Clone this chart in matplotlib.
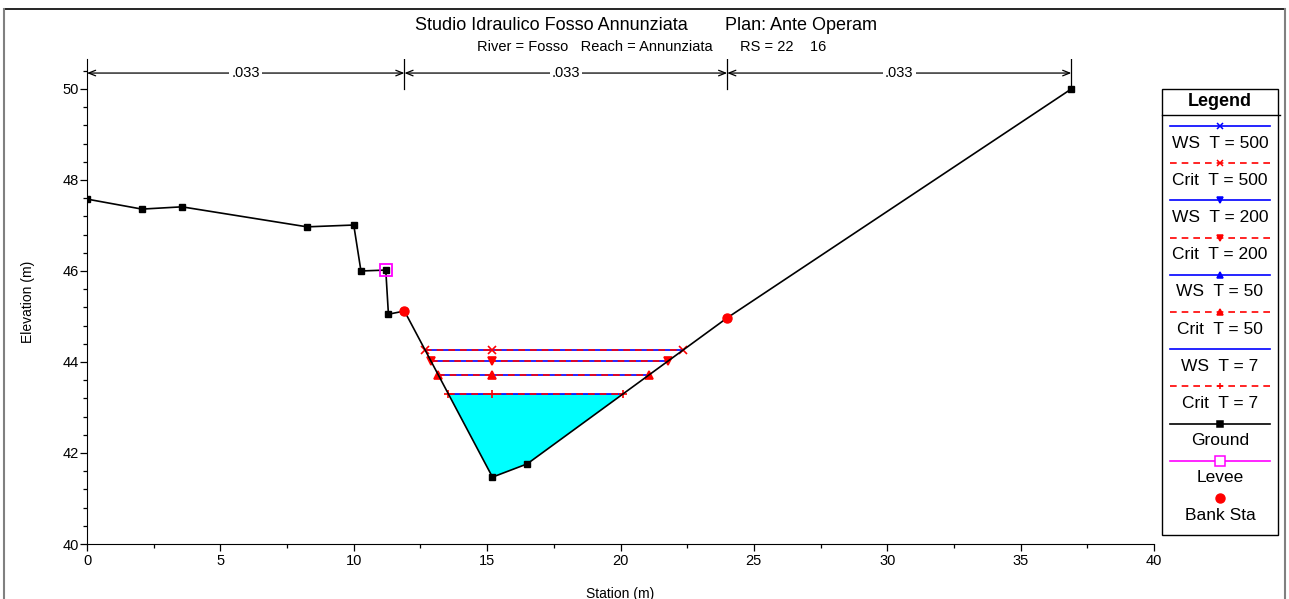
import numpy as np
import matplotlib
matplotlib.use("Agg")
import matplotlib.pyplot as plt
from matplotlib.lines import Line2D
from matplotlib.patches import Rectangle, Polygon

plt.rcParams['font.family'] = ['Liberation Sans', 'DejaVu Sans']

# ground profile (station, elevation)
station = [0.0, 2.06, 3.56, 8.25, 10.0, 10.27, 11.2, 11.3, 11.9, 15.2, 16.5, 24.0, 36.9]
elevation = [47.58, 47.36, 47.41, 46.97, 47.01, 46.0, 46.02, 45.05, 45.12, 41.47, 41.76, 44.97, 50.0]

levee_sta = [11.2]
levee_elev = [46.02]
bank_sta = [11.9, 24.0]
bank_elev = [45.12, 44.97]

# manning n
n_breaks = [0.0, 11.9, 24.0, 36.9]
n_values = [".033", ".033", ".033"]

# water surfaces per return period
profiles = ["500", "200", "50", "7"]
ws_elev = [44.26, 44.02, 43.71, 43.30]
crit_elev = [44.26, 44.02, 43.71, 43.30]
markers = ["x", "v", "^", "+"]
mid_sta = 15.2

st = np.array(station)
el = np.array(elevation)


def wet_limits(z):
    i = int(np.argmin(el))
    left = np.interp(z, el[:i + 1][::-1], st[:i + 1][::-1])
    j = i + int(np.argmax(el[i:] >= z))
    right = np.interp(z, el[i:j + 1], st[i:j + 1])
    return left, right


fig = plt.figure(figsize=(12.89, 5.99), dpi=100)
ax = fig.add_axes([87 / 1289, 55 / 599, 1067 / 1289, 484.6 / 599])

# water fill for lowest profile
zf = ws_elev[-1]
l, r = wet_limits(zf)
inside = (st > l) & (st < r)
poly = [(l, zf)] + list(zip(st[inside], el[inside])) + [(r, zf)]
ax.add_patch(Polygon(poly, closed=True, facecolor="#00ffff", edgecolor="none", zorder=1))

for k, name in enumerate(profiles):
    l, r = wet_limits(ws_elev[k])
    xs = [l, mid_sta, r]
    ax.plot(xs, [ws_elev[k]] * 3, color="#0000ff", lw=1.2, zorder=3)
    l, r = wet_limits(crit_elev[k])
    xs = [l, mid_sta, r]
    ax.plot(xs, [crit_elev[k]] * 3, color="#ff0000", lw=1.2, ls=(0, (4, 3)),
            marker=markers[k], ms=5.5, mew=1.2, zorder=4)

ax.plot(station, elevation, color="black", lw=1.2, marker="s", ms=5, zorder=5)
ax.plot(levee_sta, levee_elev, ls="none", marker="s", ms=8, mfc="none", mec="#ff00ff", mew=1.3, zorder=6)
ax.plot(bank_sta, bank_elev, ls="none", marker="o", ms=6.5, color="#ff0000", zorder=7)

# manning n annotations
ny = 50.35
for a, b, lab in zip(n_breaks[:-1], n_breaks[1:], n_values):
    ax.annotate("", xy=(a, ny), xytext=(b, ny),
                arrowprops=dict(arrowstyle="<->,head_length=0.5,head_width=0.2", color="black", lw=0.9,
                                shrinkA=0, shrinkB=0))
    ax.text((a + b) / 2, ny, lab, ha="center", va="center", fontsize=10.5,
            bbox=dict(facecolor="white", edgecolor="none", pad=1.5), zorder=8)
for b in n_breaks[1:]:
    ax.plot([b, b], [50.0, 50.65], color="black", lw=0.9)

ax.set_xlim(0, 40)
ax.set_ylim(40, 50.65)
ax.set_xticks(np.arange(0, 41, 5))
ax.set_xticks(np.arange(0, 40.1, 2.5), minor=True)
ax.set_yticks(np.arange(40, 51, 2))
ax.set_yticks(np.arange(40, 50.5, 0.4), minor=True)
ax.tick_params(which="both", direction="out", labelsize=10.5, width=0.9)
ax.tick_params(which="major", length=5)
ax.tick_params(which="minor", length=3)
ax.tick_params(axis="x", pad=2)
ax.tick_params(axis="y", pad=1)
for s in ["top", "right"]:
    ax.spines[s].set_visible(False)
ax.set_xlabel("Station (m)", fontsize=10, labelpad=14)
ax.set_ylabel("Elevation (m)", fontsize=10, labelpad=20)

fig.text(688 / 1289, 1 - 25 / 599, "Studio Idraulico Fosso Annunziata",
         ha="right", va="center", fontsize=13)
fig.text(725 / 1289, 1 - 25 / 599, "Plan: Ante Operam",
         ha="left", va="center", fontsize=13)
fig.text(713 / 1289, 1 - 47 / 599, "River = Fosso   Reach = Annunziata",
         ha="right", va="center", fontsize=10.5)
fig.text(740 / 1289, 1 - 47 / 599, "RS = 22    16",
         ha="left", va="center", fontsize=10.5)

# figure frame
fig.add_artist(Line2D([4 / 1289, 1285 / 1289], [1 - 9 / 599, 1 - 9 / 599], color="black", lw=1.2))
fig.add_artist(Line2D([4 / 1289, 4 / 1289], [0, 1 - 9 / 599], color="#808080", lw=1.5))
fig.add_artist(Line2D([1285 / 1289, 1285 / 1289], [0, 1 - 9 / 599], color="#808080", lw=1.5))

# legend box drawn by hand
lg = fig.add_axes([0, 0, 1, 1], facecolor="none")
lg.set_xlim(0, 1289)
lg.set_ylim(599, 0)
lg.axis("off")
lg.add_patch(Rectangle((1162, 89), 116, 446, facecolor="white", edgecolor="black", lw=1.0))
lg.plot([1162, 1280], [115, 115], color="black", lw=1.0)
lg.text(1220, 101, "Legend", ha="center", va="center", fontsize=13, fontweight="bold")

entries = []
for k, name in enumerate(profiles):
    entries.append(("WS  T = " + name, "#0000ff", "-", markers[k] if name != "7" else "", "#0000ff"))
    entries.append(("Crit  T = " + name, "#ff0000", (0, (4, 3)), markers[k], "#ff0000"))
entries.append(("Ground", "black", "-", "s", "black"))
entries.append(("Levee", "#ff00ff", "-", "s", "#ff00ff"))
entries.append(("Bank Sta", "none", "-", "o", "#ff0000"))

for k, (lab, col, ls, mk, mc) in enumerate(entries):
    y0 = 126 + k * 37.2
    lg.plot([1170, 1270], [y0, y0], color=col, ls=ls, lw=1.2)
    if mk:
        if lab == "Levee":
            lg.plot([1220], [y0], marker=mk, ms=7, mfc="white", mec=mc, mew=1.1)
        elif lab == "Bank Sta":
            lg.plot([1220], [y0], marker=mk, ms=6.5, color=mc)
        else:
            lg.plot([1220], [y0], marker=mk, ms=5, color=mc, mew=1.1)
    lg.text(1220, y0 + 17, lab, ha="center", va="center", fontsize=12.5)

fig.savefig("out.png", dpi=100)
